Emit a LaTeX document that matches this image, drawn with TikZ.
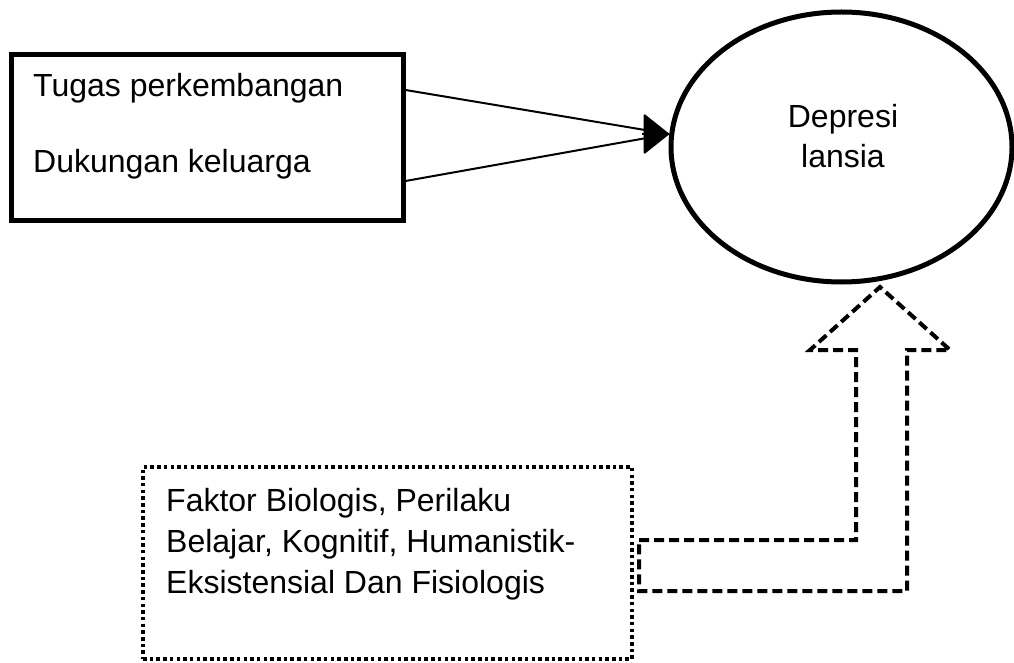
\documentclass[tikz,border=0pt]{standalone}
\usepackage{fontspec}
\setmainfont{Liberation Sans}
\usetikzlibrary{arrows.meta,shapes.geometric}
\begin{document}
\begin{tikzpicture}[x=1pt,y=-1pt,
  txt/.style={inner sep=0pt, font=\fontsize{32}{38}\selectfont},
  solidbox/.style={draw, line width=5pt, inner sep=0pt},
  ell/.style={draw, ellipse, line width=5pt, inner sep=0pt},
  thin/.style={line width=2pt},
  dashedarrow/.style={line width=4pt, dash pattern=on 10pt off 5pt, line join=miter},
  dottedbox/.style={draw, line width=4pt, dash pattern=on 3.5pt off 3.2pt, inner sep=0pt}
]
\useasboundingbox (0,0) rectangle (1014,663);
% left box
\node[solidbox, minimum width=392pt, minimum height=165pt] (box) at (207,137.5) {};
\node[txt, anchor=base west] (t1) at (33,97) {Tugas perkembangan};
\node[txt, anchor=base west] (t2) at (33,173) {Dukungan keluarga};
% ellipse
\node[ell, minimum width=341pt, minimum height=270pt] (dep) at (841.5,147) {};
\node[txt, anchor=base] (d1) at (843,128) {Depresi};
\node[txt, anchor=base] (d2) at (843,168) {lansia};
% converging lines
\coordinate (tip) at (669,134);
\coordinate (hb) at (642,134);
\draw[thin] ([yshift=47.5pt]box.east) -- (tip);
\draw[thin] ([yshift=-43.5pt]box.east) -- (tip);
\draw[thin, -{Triangle[length=26pt,width=41pt,round]}] (hb) -- (tip);
% dotted box
\node[dottedbox, minimum width=489pt, minimum height=192pt] (fbox) at (387.5,563) {};
\node[txt, anchor=base west] (f1) at (166,511) {Faktor Biologis, Perilaku};
\node[txt, anchor=base west] (f2) at (166,552) {Belajar, Kognitif, Humanistik-};
\node[txt, anchor=base west] (f3) at (166,593) {Eksistensial Dan Fisiologis};
% dashed block arrow
\draw[dashedarrow] (639,540) -- (856,540) -- (856,350) -- (810,350) -- (880,287)
  -- (950,350) -- (907,350) -- (907,591) -- (639,591) -- cycle;
\end{tikzpicture}
\end{document}
